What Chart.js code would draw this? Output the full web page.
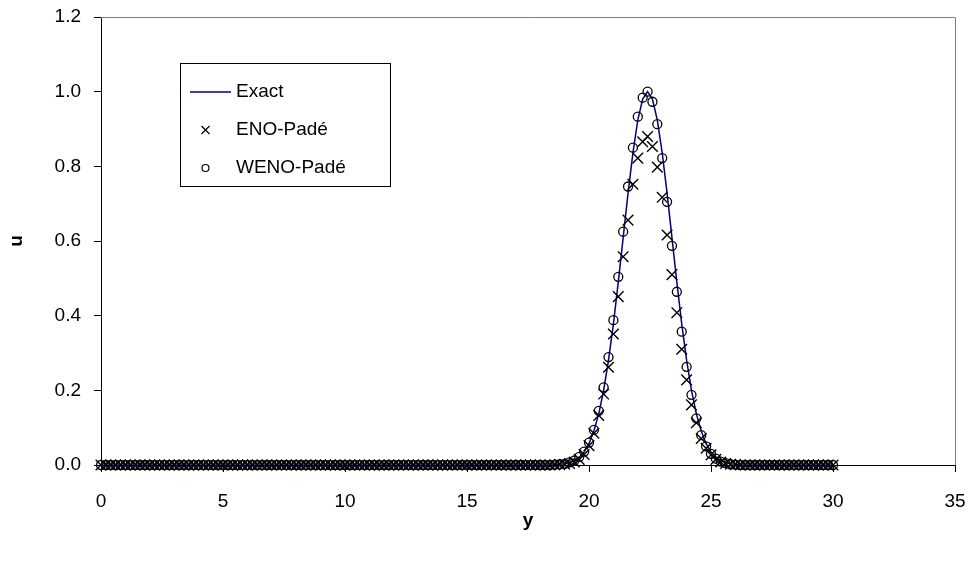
<!DOCTYPE html>
<html>
<head>
<meta charset="utf-8">
<script src="https://cdn.jsdelivr.net/npm/chart.js@4.4.0/dist/chart.umd.min.js"></script>
<style>
  html, body { margin: 0; padding: 0; background: #fff; }
</style>
</head>
<body>
<canvas id="myChart" width="974" height="562"></canvas>
<script>
// grid positions y = 0 ... 30, step 0.2
var yPos = [
  0.0, 0.2, 0.4, 0.6, 0.8, 1.0, 1.2, 1.4, 1.6, 1.8,
  2.0, 2.2, 2.4, 2.6, 2.8, 3.0, 3.2, 3.4, 3.6, 3.8,
  4.0, 4.2, 4.4, 4.6, 4.8, 5.0, 5.2, 5.4, 5.6, 5.8,
  6.0, 6.2, 6.4, 6.6, 6.8, 7.0, 7.2, 7.4, 7.6, 7.8,
  8.0, 8.2, 8.4, 8.6, 8.8, 9.0, 9.2, 9.4, 9.6, 9.8,
  10.0, 10.2, 10.4, 10.6, 10.8, 11.0, 11.2, 11.4, 11.6, 11.8,
  12.0, 12.2, 12.4, 12.6, 12.8, 13.0, 13.2, 13.4, 13.6, 13.8,
  14.0, 14.2, 14.4, 14.6, 14.8, 15.0, 15.2, 15.4, 15.6, 15.8,
  16.0, 16.2, 16.4, 16.6, 16.8, 17.0, 17.2, 17.4, 17.6, 17.8,
  18.0, 18.2, 18.4, 18.6, 18.8, 19.0, 19.2, 19.4, 19.6, 19.8,
  20.0, 20.2, 20.4, 20.6, 20.8, 21.0, 21.2, 21.4, 21.6, 21.8,
  22.0, 22.2, 22.4, 22.6, 22.8, 23.0, 23.2, 23.4, 23.6, 23.8,
  24.0, 24.2, 24.4, 24.6, 24.8, 25.0, 25.2, 25.4, 25.6, 25.8,
  26.0, 26.2, 26.4, 26.6, 26.8, 27.0, 27.2, 27.4, 27.6, 27.8,
  28.0, 28.2, 28.4, 28.6, 28.8, 29.0, 29.2, 29.4, 29.6, 29.8,
  30.0
];
var exactU = [
  0, 0, 0, 0, 0, 0, 0, 0, 0, 0,
  0, 0, 0, 0, 0, 0, 0, 0, 0, 0,
  0, 0, 0, 0, 0, 0, 0, 0, 0, 0,
  0, 0, 0, 0, 0, 0, 0, 0, 0, 0,
  0, 0, 0, 0, 0, 0, 0, 0, 0, 0,
  0, 0, 0, 0, 0, 0, 0, 0, 0, 0,
  0, 0, 0, 0, 0, 0, 0, 0, 0, 0,
  0, 0, 0, 0, 0, 0, 0, 0, 0, 0,
  0, 0, 0, 0, 0, 0, 0, 0, 0, 0,
  0, 0, 0, 0.001, 0.002, 0.003, 0.006, 0.012, 0.021, 0.035,
  0.057, 0.091, 0.137, 0.200, 0.281, 0.378, 0.490, 0.609, 0.728, 0.836,
  0.924, 0.980, 1.000, 0.980, 0.924, 0.836, 0.728, 0.609, 0.490, 0.378,
  0.281, 0.200, 0.137, 0.091, 0.057, 0.035, 0.021, 0.012, 0.006, 0.003,
  0.002, 0, 0, 0, 0, 0, 0, 0, 0, 0,
  0, 0, 0, 0, 0, 0, 0, 0, 0, 0,
  0
];
var enoU = [
  0, 0, 0, 0, 0, 0, 0, 0, 0, 0,
  0, 0, 0, 0, 0, 0, 0, 0, 0, 0,
  0, 0, 0, 0, 0, 0, 0, 0, 0, 0,
  0, 0, 0, 0, 0, 0, 0, 0, 0, 0,
  0, 0, 0, 0, 0, 0, 0, 0, 0, 0,
  0, 0, 0, 0, 0, 0, 0, 0, 0, 0,
  0, 0, 0, 0, 0, 0, 0, 0, 0, 0,
  0, 0, 0, 0, 0, 0, 0, 0, 0, 0,
  0, 0, 0, 0, 0, 0, 0, 0, 0, 0,
  0, 0, 0, 0, 0.001, 0.002, 0.004, 0.008, 0.015, 0.028,
  0.052, 0.085, 0.133, 0.190, 0.262, 0.351, 0.451, 0.558, 0.656, 0.752,
  0.822, 0.866, 0.880, 0.853, 0.798, 0.717, 0.616, 0.510, 0.408, 0.310,
  0.228, 0.161, 0.113, 0.071, 0.045, 0.027, 0.015, 0.008, 0.004, 0.002,
  0.001, 0, 0, 0, 0, 0, 0, 0, 0, 0,
  0, 0, 0, 0, 0, 0, 0, 0, 0, 0,
  0
];
var wenoU = [
  0, 0, 0, 0, 0, 0, 0, 0, 0, 0,
  0, 0, 0, 0, 0, 0, 0, 0, 0, 0,
  0, 0, 0, 0, 0, 0, 0, 0, 0, 0,
  0, 0, 0, 0, 0, 0, 0, 0, 0, 0,
  0, 0, 0, 0, 0, 0, 0, 0, 0, 0,
  0, 0, 0, 0, 0, 0, 0, 0, 0, 0,
  0, 0, 0, 0, 0, 0, 0, 0, 0, 0,
  0, 0, 0, 0, 0, 0, 0, 0, 0, 0,
  0, 0, 0, 0, 0, 0, 0, 0, 0, 0,
  0, 0, 0, 0.001, 0.002, 0.003, 0.007, 0.012, 0.022, 0.036,
  0.060, 0.094, 0.145, 0.208, 0.289, 0.388, 0.504, 0.625, 0.746, 0.850,
  0.933, 0.984, 1.000, 0.973, 0.913, 0.822, 0.705, 0.587, 0.464, 0.357,
  0.263, 0.188, 0.125, 0.080, 0.050, 0.030, 0.017, 0.009, 0.005, 0.002,
  0.001, 0, 0, 0, 0, 0, 0, 0, 0, 0,
  0, 0, 0, 0, 0, 0, 0, 0, 0, 0,
  0
];
var seriesNames = ["Exact", "ENO-Padé", "WENO-Padé"];
var FONT = "'Liberation Sans', Arial, sans-serif";

function toPoints(vals) {
  return vals.map(function (v, i) { return { x: yPos[i], y: v }; });
}

// drop the label overflow padding so the layout padding decides the plot box
function noOverflow(s) {
  s.paddingLeft = 0;
  s.paddingRight = 0;
  s.paddingTop = 0;
  s.paddingBottom = 0;
}

// grey frame on top and right of the plot area
var framePlugin = {
  id: "frame",
  beforeDatasetsDraw: function (chart) {
    var a = chart.chartArea, ctx = chart.ctx;
    ctx.save();
    ctx.strokeStyle = "#808080";
    ctx.lineWidth = 1;
    ctx.beginPath();
    ctx.moveTo(a.left, a.top + 0.5);
    ctx.lineTo(a.right + 0.5, a.top + 0.5);
    ctx.lineTo(a.right + 0.5, a.bottom);
    ctx.stroke();
    ctx.restore();
  }
};

// boxed legend inside the plot, like the original
var boxLegend = {
  id: "boxLegend",
  afterDraw: function (chart) {
    var ctx = chart.ctx;
    var bx = 180, by = 63, bw = 210, bh = 123;
    ctx.save();
    ctx.fillStyle = "#fff";
    ctx.fillRect(bx, by, bw, bh);
    ctx.strokeStyle = "#000";
    ctx.lineWidth = 1;
    ctx.strokeRect(bx + 0.5, by + 0.5, bw, bh);
    ctx.font = "19px " + FONT;
    ctx.fillStyle = "#000";
    ctx.textBaseline = "middle";
    var rows = [92, 130, 168];
    for (var i = 0; i < 3; i++) {
      ctx.fillText(seriesNames[i], 236, rows[i]);
    }
    // line sample
    ctx.strokeStyle = "#000080";
    ctx.lineWidth = 1.5;
    ctx.beginPath();
    ctx.moveTo(190, rows[0]);
    ctx.lineTo(231, rows[0]);
    ctx.stroke();
    // cross sample
    ctx.strokeStyle = "#000";
    ctx.lineWidth = 1.2;
    ctx.beginPath();
    ctx.moveTo(201.5, rows[1] - 4);
    ctx.lineTo(209.5, rows[1] + 4);
    ctx.moveTo(209.5, rows[1] - 4);
    ctx.lineTo(201.5, rows[1] + 4);
    ctx.stroke();
    // circle sample
    ctx.beginPath();
    ctx.arc(205.5, rows[2], 3.5, 0, Math.PI * 2);
    ctx.stroke();
    ctx.restore();
  }
};

var ctx = document.getElementById("myChart").getContext("2d");
var chart = new Chart(ctx, {
  type: "scatter",
  data: {
    datasets: [{
      label: seriesNames[0],
      data: toPoints(exactU),
      showLine: true,
      borderColor: "#000080",
      borderWidth: 1.5,
      pointRadius: 0,
      order: 3,
      clip: false
    }, {
      label: seriesNames[1],
      data: toPoints(enoU),
      showLine: false,
      pointStyle: "crossRot",
      pointRadius: 7.5,
      borderColor: "#000",
      borderWidth: 1.4,
      order: 2,
      clip: false
    }, {
      label: seriesNames[2],
      data: toPoints(wenoU),
      showLine: false,
      pointStyle: "circle",
      pointRadius: 4.5,
      backgroundColor: "rgba(0,0,0,0)",
      borderColor: "#000",
      borderWidth: 1.3,
      order: 1,
      clip: false
    }]
  },
  options: {
    responsive: false,
    animation: false,
    layout: { padding: { top: 17, right: 19, left: 0, bottom: 0 } },
    plugins: {
      legend: { display: false },
      tooltip: { enabled: false }
    },
    scales: {
      x: {
        type: "linear",
        min: 0,
        max: 35,
        ticks: { stepSize: 5, color: "#000", padding: 18, font: { family: FONT, size: 19 } },
        grid: { drawOnChartArea: false, tickLength: 7, color: "#000" },
        border: { color: "#000", width: 1 },
        title: {
          display: true, text: "y", color: "#000",
          font: { family: FONT, size: 19, weight: "bold" },
          padding: { top: 0, bottom: 30 }
        },
        afterFit: function (s) { s.height = 97; noOverflow(s); }
      },
      y: {
        min: 0,
        max: 1.2,
        ticks: {
          stepSize: 0.2, color: "#000", padding: 13,
          font: { family: FONT, size: 19 },
          callback: function (v) { return v.toFixed(1); }
        },
        grid: { drawOnChartArea: false, tickLength: 7, color: "#000" },
        border: { color: "#000", width: 1 },
        title: {
          display: true, text: "u", color: "#000",
          font: { family: FONT, size: 19, weight: "bold" },
          padding: { top: 5, bottom: 0 }
        },
        afterFit: function (s) { s.width = 101; noOverflow(s); }
      }
    }
  },
  plugins: [framePlugin, boxLegend]
});
</script>
</body>
</html>
